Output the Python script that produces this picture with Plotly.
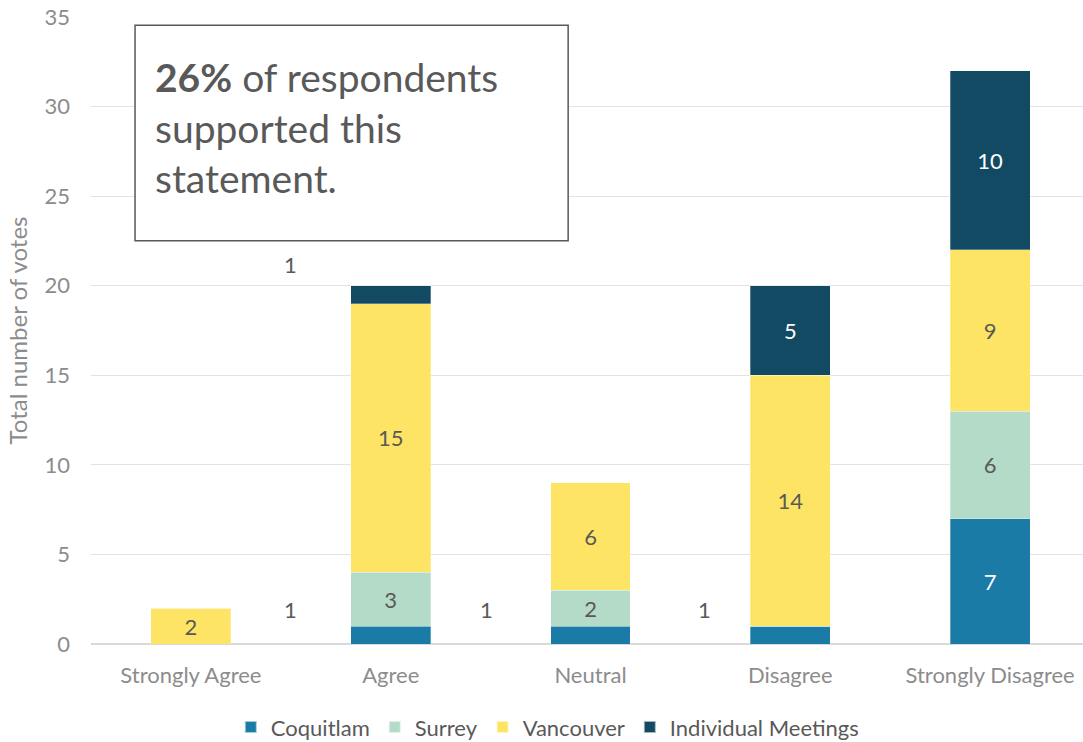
import plotly.graph_objects as go

categories = ["Strongly Agree", "Agree", "Neutral", "Disagree", "Strongly Disagree"]
coquitlam = [0, 1, 1, 1, 7]
surrey = [0, 3, 2, 0, 6]
vancouver = [2, 15, 6, 14, 9]
individual = [0, 1, 0, 5, 10]
y_ticks = [0, 5, 10, 15, 20, 25, 30, 35]

series = [
    ("Coquitlam", coquitlam, "#1B7BA7", "white"),
    ("Surrey", surrey, "#B3DBC8", "#595959"),
    ("Vancouver", vancouver, "#FEE464", "#595959"),
    ("Individual Meetings", individual, "#124A63", "white"),
]

FONT = "Lato, 'Open Sans', sans-serif"
LABEL_SIZE = 22

fig = go.Figure()
for name, vals, color, txtcol in series:
    # in-bar labels only where the segment is tall enough; single votes are labelled beside the bar
    labels = [str(v) if v > 1 else "" for v in vals]
    fig.add_trace(go.Bar(
        x=list(range(len(categories))), y=vals, name=name,
        marker=dict(color=color, line=dict(color="rgba(255,255,255,0.6)", width=0.5)),
        width=0.4, text=labels, textposition="inside", insidetextanchor="middle",
        textangle=0, textfont=dict(family=FONT, size=LABEL_SIZE, color=txtcol),
        constraintext="none", hoverinfo="skip",
    ))

annotations = []
# one-vote labels set beside their stacks (x offset in category units, y above the base)
side_offsets = {1: -0.5, 2: -0.52, 3: -0.43}
for i, v in enumerate(coquitlam):
    if v == 1:
        annotations.append(dict(x=i + side_offsets[i], y=v + 0.9, text=str(v), showarrow=False,
                                font=dict(family=FONT, size=LABEL_SIZE, color="#595959")))
for i, v in enumerate(individual):
    if v == 1:
        top = coquitlam[i] + surrey[i] + vancouver[i] + v
        annotations.append(dict(x=i - 0.5, y=top + 1.2, text=str(v), showarrow=False,
                                font=dict(family=FONT, size=LABEL_SIZE, color="#595959")))

# callout text
annotations.append(dict(
    xref="paper", yref="paper", x=0.0625, y=0.944, xanchor="left", yanchor="top",
    text="<b>26%</b> of respondents<br>supported this<br>statement.",
    align="left", showarrow=False,
    font=dict(family=FONT, size=39, color="#595959"),
))

fig.update_layout(
    barmode="stack",
    width=1083, height=742,
    margin=dict(l=91, r=0, t=17, b=98),
    plot_bgcolor="white", paper_bgcolor="white",
    showlegend=True,
    legend=dict(orientation="h", x=0.46, xanchor="center", yref="container", y=0.02, yanchor="middle",
                font=dict(family=FONT, size=22, color="#595959"), itemsizing="constant",
                itemwidth=30, traceorder="normal"),
    annotations=annotations,
    shapes=[dict(type="rect", xref="paper", yref="paper",
                 x0=0.0444, x1=0.481, y0=0.643, y1=0.987,
                 line=dict(color="#595959", width=1.5), fillcolor="white", layer="above")],
    xaxis=dict(
        tickvals=list(range(len(categories))), ticktext=categories,
        range=[-0.5, 4.465], showgrid=False, zeroline=False,
        showline=False, ticks="",
        tickfont=dict(family=FONT, size=22, color="#8C8C8C"),
        ticklabelstandoff=16,
    ),
    yaxis=dict(
        range=[0, 35], tickvals=y_ticks, showgrid=True, gridcolor="#E3E3E3", gridwidth=1,
        zeroline=True, zerolinecolor="#D9D9D9", zerolinewidth=2,
        showline=False, ticks="",
        tickfont=dict(family=FONT, size=22, color="#8C8C8C"),
        ticklabelstandoff=20,
        title=dict(text="Total number of votes", font=dict(family=FONT, size=24, color="#8C8C8C"),
                   standoff=10),
    ),
)

fig.write_html("out.html")
